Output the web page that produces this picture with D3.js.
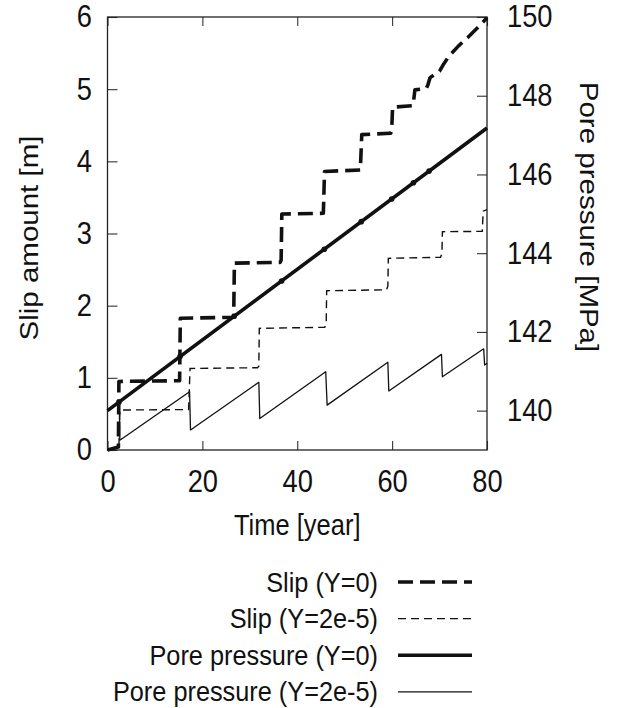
<!DOCTYPE html>
<html>
<head>
<meta charset="utf-8">
<script src="https://cdn.jsdelivr.net/npm/d3@7"></script>
<style>
  body { margin: 0; background: #fff; }
  svg { display: block; }
  svg text { font-family: "Liberation Sans", Arial, sans-serif; }
</style>
</head>
<body>
<svg id="chart" width="626" height="708"></svg>
<script>
// slip, Y=0 (thick dashed)
let slipY0Time = [0, 2.3, 2.4, 15.2, 15.35, 26.6, 26.75, 36.4, 36.6, 36.75, 45.5, 45.75,
    53.3, 53.6, 59.7, 59.9, 60.1, 64.3, 64.5, 64.8, 67.2, 67.5, 68, 70, 70.7, 72, 74, 76, 78, 80];
let slipY0 = [0, 0.04, 0.95, 0.96, 1.825, 1.84, 2.59, 2.6, 2.63, 3.27, 3.28, 3.86,
    3.88, 4.37, 4.39, 4.42, 4.75, 4.77, 4.82, 4.99, 5.01, 5.05, 5.16, 5.25, 5.33, 5.46, 5.6, 5.72, 5.85, 5.99];

// slip, Y=2e-5 (thin dashed)
let slipY2Time = [0, 2.4, 2.6, 17.1, 17.4, 31.6, 31.9, 32.0, 45.8, 46.1, 46.2,
    58.8, 59.1, 59.2, 70.2, 70.5, 70.6, 79.0, 79.2, 80];
let slipY2 = [0, 0.04, 0.554, 0.56, 1.13, 1.14, 1.16, 1.686, 1.70, 1.74, 2.207,
    2.22, 2.27, 2.656, 2.67, 2.72, 3.025, 3.03, 3.31, 3.33];

// pore pressure, Y=0 (thick solid)
let presY0Time = [0, 80];
let presY0 = [140.0, 147.18];
let eventTimes = [2.4, 15.3, 26.7, 36.7, 45.7, 53.5, 59.9, 64.5, 67.8];

// pore pressure, Y=2e-5 (thin solid)
let presY2Time = [0, 2.5, 2.6, 17.3, 17.5, 31.9, 32.1, 46.0, 46.3, 59.1, 59.3,
    70.4, 70.6, 79.3, 79.5, 80];
let presY2 = [140.0, 140.2, 139.25, 140.48, 139.51, 140.72, 139.80, 140.99, 140.14,
    141.23, 140.50, 141.43, 140.86, 141.57, 141.16, 141.2];

let xTicks = [0, 20, 40, 60, 80];
let slipTicks = [0, 1, 2, 3, 4, 5, 6];
let presTicks = [140, 142, 144, 146, 148, 150];

let legendNames = ["Slip (Y=0)", "Slip (Y=2e-5)", "Pore pressure (Y=0)", "Pore pressure (Y=2e-5)"];

// horizontal squeeze of the original figure
const squeeze = 0.86;

const margin = {top: 17, right: 139, bottom: 258, left: 107.5};
const width = 626, height = 708;
const x0 = margin.left, x1 = width - margin.right;
const y0 = height - margin.bottom, y1 = margin.top;

const svg = d3.select("#chart");

const x = d3.scaleLinear().domain([0, 80]).range([x0, x1]);
const ySlip = d3.scaleLinear().domain([0, 6]).range([y0, y1]);
const yPres = d3.scaleLinear().domain([139, 150]).range([y0, y1]);

const zip = (t, v) => t.map((d, i) => [d, v[i]]);

const styles = [
    {w: 3.6, dash: "15,7"},
    {w: 1.4, dash: "8,5"},
    {w: 3.6, dash: null},
    {w: 1.3, dash: null}
];

// axes
function styleAxis(g) {
    g.attr("font-family", null).attr("font-size", null);
    g.select(".domain").remove();
    g.selectAll(".tick line").attr("stroke", "#333").attr("stroke-width", 1.1);
    g.selectAll(".tick text").attr("fill", "#111").attr("font-size", 31).attr("data-sq", 0.88);
}

svg.append("g")
    .attr("transform", `translate(0,${y0})`)
    .call(d3.axisBottom(x).tickValues(xTicks).tickSize(-9).tickPadding(20))
    .call(styleAxis);

svg.append("g")
    .attr("transform", `translate(0,${y1})`)
    .call(d3.axisTop(x).tickValues(xTicks).tickSize(-9).tickFormat(""))
    .call(styleAxis);

svg.append("g")
    .attr("transform", `translate(${x0},0)`)
    .call(d3.axisLeft(ySlip).tickValues(slipTicks).tickFormat(d3.format("d")).tickSize(-10).tickPadding(15.5))
    .call(styleAxis);

svg.append("g")
    .attr("transform", `translate(${x1},0)`)
    .call(d3.axisRight(yPres).tickValues(presTicks).tickFormat(d3.format("d")).tickSize(-10).tickPadding(20))
    .call(styleAxis);

svg.append("rect")
    .attr("x", x0).attr("y", y1)
    .attr("width", x1 - x0).attr("height", y0 - y1)
    .attr("fill", "none").attr("stroke", "#222").attr("stroke-width", 1.3);

// lines
let lineSlip = d3.line().x(d => x(d[0])).y(d => ySlip(d[1]));
let linePres = d3.line().x(d => x(d[0])).y(d => yPres(d[1]));

let plot = svg.append("g");

plot.append("path")
    .datum(zip(presY2Time, presY2))
    .attr("d", linePres)
    .attr("fill", "none").attr("stroke", "#111")
    .attr("stroke-width", styles[3].w).attr("stroke-linejoin", "round");

plot.append("path")
    .datum(zip(slipY2Time, slipY2))
    .attr("d", lineSlip)
    .attr("fill", "none").attr("stroke", "#111")
    .attr("stroke-width", styles[1].w).attr("stroke-dasharray", styles[1].dash);

plot.append("path")
    .datum(zip(presY0Time, presY0))
    .attr("d", linePres)
    .attr("fill", "none").attr("stroke", "#111")
    .attr("stroke-width", styles[2].w);

let presAt = d3.scaleLinear().domain(presY0Time).range(presY0);
plot.selectAll("circle")
    .data(eventTimes)
    .join("circle")
    .attr("cx", d => x(d))
    .attr("cy", d => yPres(presAt(d)))
    .attr("r", 2.8)
    .attr("fill", "#111");

plot.append("path")
    .datum(zip(slipY0Time, slipY0))
    .attr("d", lineSlip)
    .attr("fill", "none").attr("stroke", "#111")
    .attr("stroke-width", styles[0].w).attr("stroke-dasharray", styles[0].dash)
    .attr("stroke-linejoin", "round");

// axis titles
svg.append("text")
    .attr("x", (x0 + x1) / 2).attr("y", 535)
    .attr("text-anchor", "middle")
    .attr("font-size", 30).attr("fill", "#111")
    .attr("data-sq", 0.85)
    .text("Time [year]");

svg.append("g")
    .attr("transform", `translate(38,238) scale(${squeeze},1) rotate(-90)`)
    .append("text")
    .attr("text-anchor", "middle")
    .attr("font-size", 29.5).attr("fill", "#111")
    .text("Slip amount [m]");

svg.append("g")
    .attr("transform", `translate(580,217) scale(${squeeze},1) rotate(90)`)
    .append("text")
    .attr("text-anchor", "middle")
    .attr("font-size", 29.5).attr("fill", "#111")
    .text("Pore pressure [MPa]");

// legend
let legend = svg.append("g");
let rows = legend.selectAll("g")
    .data(legendNames)
    .join("g")
    .attr("transform", (d, i) => `translate(0,${582 + i * 36.6})`);

rows.append("text")
    .attr("x", 378).attr("dy", "0.35em")
    .attr("text-anchor", "end")
    .attr("font-size", 27.5).attr("fill", "#111")
    .attr("data-sq", 0.92)
    .text(d => d);

rows.append("line")
    .attr("x1", 398).attr("x2", 472)
    .attr("stroke", "#111")
    .attr("stroke-width", (d, i) => styles[i].w)
    .attr("stroke-dasharray", (d, i) => styles[i].dash);

// squeeze horizontal text like the original figure
svg.selectAll("text[data-sq]").each(function () {
    let sq = +this.getAttribute("data-sq");
    let w = this.getComputedTextLength();
    d3.select(this).attr("textLength", w * sq).attr("lengthAdjust", "spacingAndGlyphs");
});
</script>
</body>
</html>
